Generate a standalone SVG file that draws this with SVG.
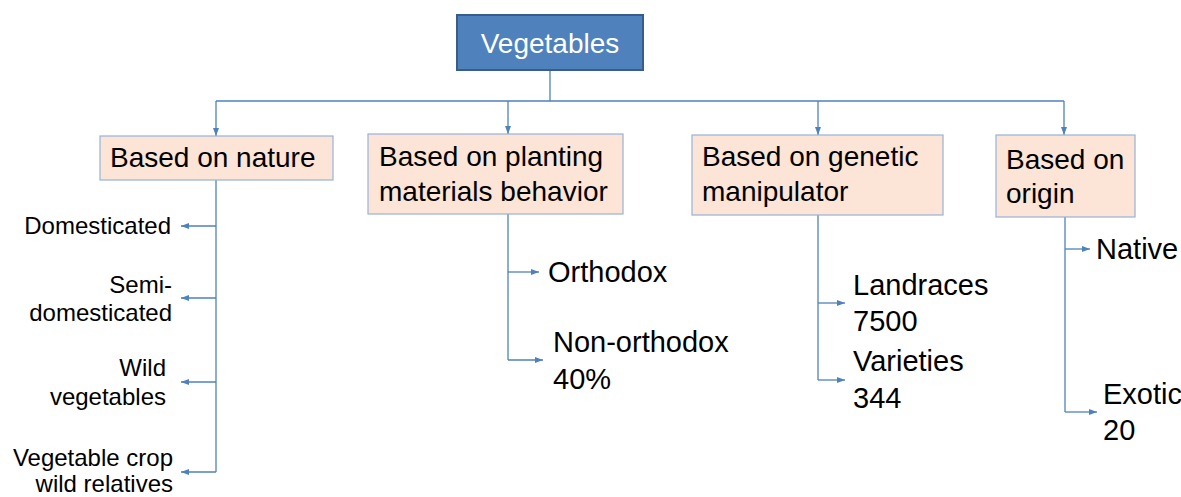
<svg xmlns="http://www.w3.org/2000/svg" width="1181" height="497" viewBox="0 0 1181 497">
<style>
.box{fill:#fce4d6;stroke:#95b3d7;stroke-width:1.2}
.root{fill:#4f81bd;stroke:#385d8a;stroke-width:2}
.t{font-family:"Liberation Sans",Arial,sans-serif;font-size:28px;fill:#000}
.k{font-family:"Liberation Sans",Arial,sans-serif;font-size:29px;fill:#000}
.s{font-family:"Liberation Sans",Arial,sans-serif;font-size:24px;fill:#000;text-anchor:end}
.c{fill:none;stroke:#4f81bd;stroke-width:1.3}
</style>
<defs>
<marker id="ah" viewBox="0 0 8 6" refX="8" refY="3" markerWidth="8" markerHeight="6" markerUnits="userSpaceOnUse" orient="auto">
<path d="M0,0 L8,3 L0,6 Z" fill="#4f81bd"/>
</marker>
</defs>
<rect width="1181" height="497" fill="#fff"/>
<g id="connectors">
<path class="c" d="M550 70 V101 M216 101 H1064"/>
<path class="c" d="M216 101 V136" marker-end="url(#ah)"/>
<path class="c" d="M508 101 V134" marker-end="url(#ah)"/>
<path class="c" d="M818 101 V135" marker-end="url(#ah)"/>
<path class="c" d="M1064 101 V135" marker-end="url(#ah)"/>
<path class="c" d="M216 180 V472"/>
<path class="c" d="M216 226 H181" marker-end="url(#ah)"/>
<path class="c" d="M216 298 H181" marker-end="url(#ah)"/>
<path class="c" d="M216 382 H181" marker-end="url(#ah)"/>
<path class="c" d="M216 472 H181" marker-end="url(#ah)"/>
<path class="c" d="M508 214 V360"/>
<path class="c" d="M508 272 H539" marker-end="url(#ah)"/>
<path class="c" d="M508 360 H543" marker-end="url(#ah)"/>
<path class="c" d="M818 215 V380"/>
<path class="c" d="M818 303 H845" marker-end="url(#ah)"/>
<path class="c" d="M818 380 H845" marker-end="url(#ah)"/>
<path class="c" d="M1065 217 V412"/>
<path class="c" d="M1065 249 H1090" marker-end="url(#ah)"/>
<path class="c" d="M1065 412 H1097" marker-end="url(#ah)"/>
</g>
<g id="vegetables">
<rect class="root" x="457" y="15" width="186" height="55"/>
<text class="t" x="550" y="53" text-anchor="middle" style="fill:#fff">Vegetables</text>
</g>
<g id="nature">
<rect class="box" x="100" y="136" width="233" height="44"/>
<text class="t" x="110" y="167">Based on nature</text>
</g>
<g id="planting">
<rect class="box" x="368" y="134" width="255" height="80"/>
<text class="t" x="379" y="166">Based on planting</text>
<text class="t" x="379" y="201">materials behavior</text>
</g>
<g id="genetic">
<rect class="box" x="692" y="135" width="251" height="80"/>
<text class="t" x="702" y="166">Based on genetic</text>
<text class="t" x="702" y="201">manipulator</text>
</g>
<g id="origin">
<rect class="box" x="996" y="135" width="139" height="82"/>
<text class="t" x="1006" y="169">Based on</text>
<text class="t" x="1006" y="203">origin</text>
</g>
<g id="domesticated"><text class="s" x="171" y="234">Domesticated</text></g>
<g id="semi"><text class="s" x="172" y="293">Semi-</text><text class="s" x="172" y="321">domesticated</text></g>
<g id="wild"><text class="s" x="166" y="376">Wild</text><text class="s" x="166" y="405">vegetables</text></g>
<g id="cwr"><text class="s" x="173" y="466">Vegetable crop</text><text class="s" x="173" y="492">wild relatives</text></g>
<g id="orthodox"><text class="k" x="548" y="282">Orthodox</text></g>
<g id="nonorthodox"><text class="k" x="553" y="352">Non-orthodox</text><text class="k" x="553" y="389">40%</text></g>
<g id="landraces"><text class="k" x="853" y="295">Landraces</text><text class="k" x="853" y="331">7500</text></g>
<g id="varieties"><text class="k" x="853" y="371">Varieties</text><text class="k" x="853" y="408">344</text></g>
<g id="native"><text class="k" x="1096" y="259">Native</text></g>
<g id="exotic"><text class="k" x="1103" y="404">Exotic</text><text class="k" x="1103" y="440">20</text></g>
</svg>
